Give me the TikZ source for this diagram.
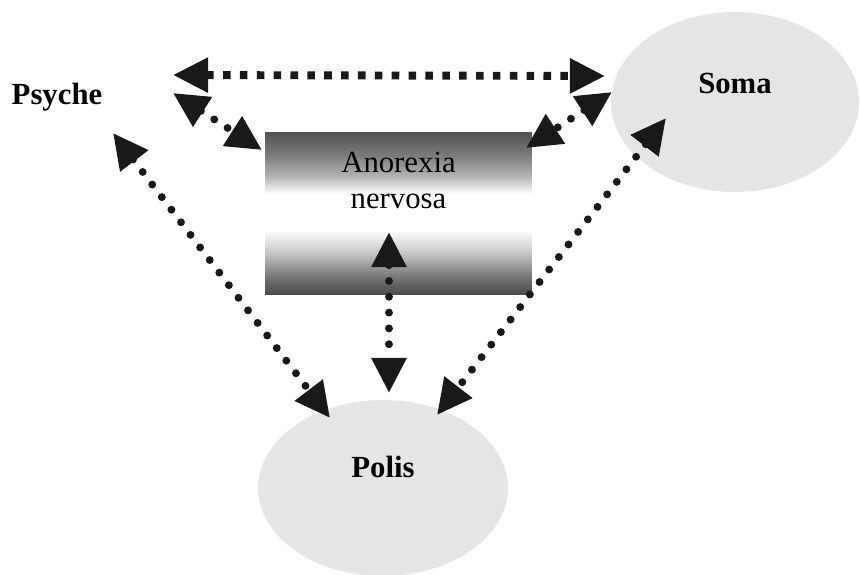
\documentclass[tikz,border=0pt]{standalone}
\usepackage{fontspec}
\setmainfont{Liberation Serif}
\usetikzlibrary{arrows.meta,shapes.geometric,positioning}

\pgfdeclareverticalshading{anorexiashade}{100bp}{color(0bp)=(black!72); color(25bp)=(black!72); color(31bp)=(black!52); color(38bp)=(black!22); color(45bp)=(white); color(56bp)=(white); color(61bp)=(black!28); color(68bp)=(black!52); color(75bp)=(black!68); color(100bp)=(black!68)}

\tikzset{
  link/.style={{Triangle[length=20pt,width=19pt]}-{Triangle[length=20pt,width=19pt]}, black!90, line width=4.5pt, dash pattern=on 0pt off 9pt, line cap=round},
  squarelink/.style={link, line cap=butt, dash pattern=on 4.3pt off 5.3pt},
  blob/.style={ellipse, fill=black!10, inner sep=0pt, font=\fontsize{17.5}{21}\selectfont\bfseries}
}

\begin{document}
\begin{tikzpicture}[x=0.02cm, y=-0.02cm]
  \useasboundingbox (0,0) rectangle (860,575);
  % the three spheres
  \node (soma) [blob, minimum width=4.96cm, minimum height=3.6cm] at (735,102) {\raisebox{0.18cm}[0pt][0pt]{Soma}};
  \node (polis) [blob, minimum width=5cm, minimum height=3.52cm] at (383,488) {\raisebox{0.22cm}[0pt][0pt]{Polis}};
  \node (psyche) [font=\fontsize{17.5}{21}\selectfont\bfseries] at (57,97) {Psyche};
  % the disorder in the middle
  \node (anorexia) [rectangle, minimum width=5.34cm, minimum height=3.26cm, inner sep=0pt,
        shading=anorexiashade, font=\fontsize{17.5}{20.4}\selectfont] at (398.5,213.5)
        {\raisebox{0.11cm}[0pt][0pt]{\begin{tabular}[b]{@{}c@{}}Anorexia\\nervosa\end{tabular}}};
  % links
  \draw[squarelink] ([shift={(116,-22)}]psyche.center) -- ([shift={(-130,-26)}]soma.center);
  \draw[link] ([shift={(116,-4)}]psyche.center) -- ([shift={(-136.5,-63.5)}]anorexia.center);
  \draw[link] ([shift={(-123,-10)}]soma.center) -- ([shift={(127.5,-65.5)}]anorexia.center);
  \draw[link] ([shift={(56,36)}]psyche.center) -- ([shift={(-53,-70)}]polis.center);
  \draw[link] ([shift={(-9.5,18.5)}]anorexia.center) -- ([shift={(6,-95)}]polis.center);
  \draw[link] ([shift={(-69,16)}]soma.center) -- ([shift={(54,-73)}]polis.center);
\end{tikzpicture}
\end{document}
